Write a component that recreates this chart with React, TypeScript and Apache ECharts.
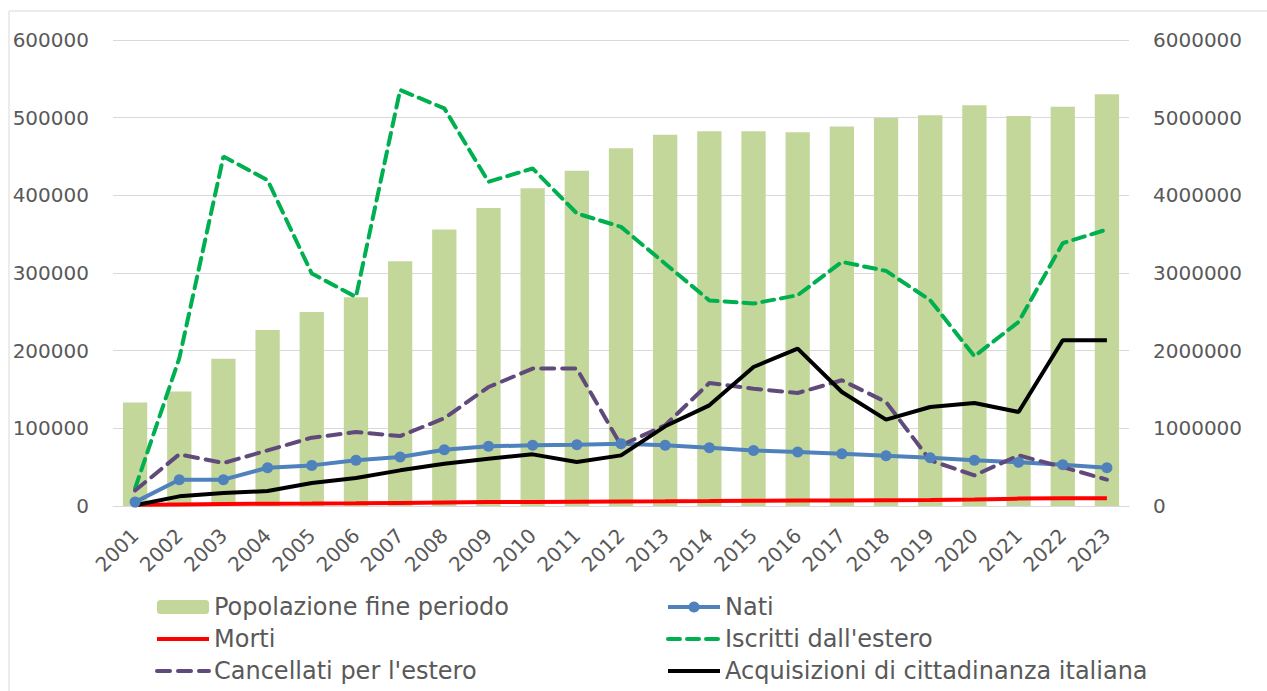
import React, { useEffect, useRef } from "react";
import * as echarts from "echarts";

const years = ["2001","2002","2003","2004","2005","2006","2007","2008","2009","2010","2011","2012","2013","2014","2015","2016","2017","2018","2019","2020","2021","2022","2023"];
const popolazione = [1334000,1475000,1897000,2265000,2497000,2687000,3151000,3559000,3838000,4091000,4315000,4607000,4779000,4826000,4826000,4813000,4887000,4996000,5030000,5160000,5020000,5140000,5300000];
const nati = [5000,33900,33900,49300,52300,58800,63000,72500,76800,78100,79000,80300,78100,75100,71600,69500,67400,64800,62200,58800,56200,53200,49300];
const morti = [1500,2000,2500,3000,3200,3500,4000,4500,5000,5200,5500,5800,6000,6300,6700,7000,7200,7500,7800,8500,9500,10000,10000];
const iscritti = [22700,190000,450000,419500,299300,269200,535600,512000,417400,434600,376700,359400,312000,264700,260700,271400,314300,302700,265000,192800,237000,338400,356000];
const cancellati = [20000,66500,55300,71600,88000,95200,90100,113000,153200,176900,176900,78100,104000,158400,151100,145500,161900,133900,58800,39400,65200,50100,33900];
const acquisizioni = [1000,12400,16600,19200,29500,36000,45900,54500,60900,66500,56600,65200,102600,129600,179000,202700,146800,111200,127500,132600,121000,213400,213400];

const FONT = "DejaVu Sans";
const TXT = "#595959";

export default function App() {
  const ref = useRef<HTMLDivElement>(null);
  useEffect(() => {
    if (!ref.current) return;
    const chart = echarts.init(ref.current, undefined, { renderer: "svg" });
    const legendText = { fontFamily: FONT, fontSize: 24, color: TXT, lineHeight: 24 };
    const hideMark = { opacity: 0 };
    const plain = (v: number) => String(v);
    chart.setOption({
      animation: false,
      backgroundColor: "#ffffff",
      graphic: [
        { type: "rect", shape: { x: 9, y: 11, width: 1300, height: 720 }, style: { fill: "none", stroke: "#d9d9d9", lineWidth: 1 }, silent: true, z: -10 },
      ],
      grid: { left: 113, right: 138, top: 40, bottom: 185, containLabel: false },
      legend: [
        {
          orient: "vertical", left: 155, top: 595, padding: 0, itemWidth: 52, itemHeight: 14, itemGap: 8,
          textStyle: legendText,
          lineStyle: { width: 4 },
          data: [
            { name: "Popolazione fine periodo" },
            { name: "Morti", itemStyle: hideMark },
            { name: "Cancellati per l'estero", itemStyle: hideMark },
          ],
        },
        {
          orient: "vertical", left: 666, top: 595, padding: 0, itemWidth: 52, itemHeight: 14, itemGap: 8,
          textStyle: legendText,
          lineStyle: { width: 4 },
          data: [
            { name: "Nati" },
            { name: "Iscritti dall'estero", itemStyle: hideMark },
            { name: "Acquisizioni di cittadinanza italiana", itemStyle: hideMark },
          ],
        },
      ],
      xAxis: {
        type: "category",
        data: years,
        axisLine: { lineStyle: { color: "#d9d9d9", width: 1 } },
        axisTick: { show: false },
        axisLabel: { rotate: 45, fontFamily: FONT, fontSize: 20, color: TXT, margin: 26, interval: 0 },
      },
      yAxis: [
        {
          type: "value", min: 0, max: 600000, interval: 100000,
          axisLine: { show: false }, axisTick: { show: false },
          axisLabel: { fontFamily: FONT, fontSize: 20, color: TXT, margin: 24, formatter: plain },
          splitLine: { lineStyle: { color: "#d9d9d9", width: 1 } },
        },
        {
          type: "value", min: 0, max: 6000000, interval: 1000000,
          axisLine: { show: false }, axisTick: { show: false },
          axisLabel: { fontFamily: FONT, fontSize: 20, color: TXT, margin: 24, formatter: plain },
          splitLine: { show: false },
        },
      ],
      series: [
        {
          name: "Popolazione fine periodo", type: "bar", yAxisIndex: 1, data: popolazione,
          barWidth: "55%", itemStyle: { color: "#c4d79b" }, z: 1,
        },
        {
          name: "Nati", type: "line", data: nati, symbol: "circle", symbolSize: 11, showSymbol: true,
          lineStyle: { color: "#4f81bd", width: 4 }, itemStyle: { color: "#4f81bd" }, z: 3,
        },
        {
          name: "Morti", type: "line", data: morti, symbol: "none",
          lineStyle: { color: "#ff0000", width: 4 }, itemStyle: { color: "#ff0000" }, z: 3,
        },
        {
          name: "Iscritti dall'estero", type: "line", data: iscritti, symbol: "none",
          lineStyle: { color: "#00b050", width: 4, type: [12, 7], cap: "round" }, itemStyle: { color: "#00b050" }, z: 3,
        },
        {
          name: "Cancellati per l'estero", type: "line", data: cancellati, symbol: "none",
          lineStyle: { color: "#604a7b", width: 4, type: [13, 8], cap: "round" }, itemStyle: { color: "#604a7b" }, z: 3,
        },
        {
          name: "Acquisizioni di cittadinanza italiana", type: "line", data: acquisizioni, symbol: "none",
          lineStyle: { color: "#000000", width: 4 }, itemStyle: { color: "#000000" }, z: 3,
        },
      ],
    });
    return () => chart.dispose();
  }, []);
  return <div ref={ref} style={{ width: 1267, height: 691, position: "absolute", left: 0, top: 0 }} />;
}
